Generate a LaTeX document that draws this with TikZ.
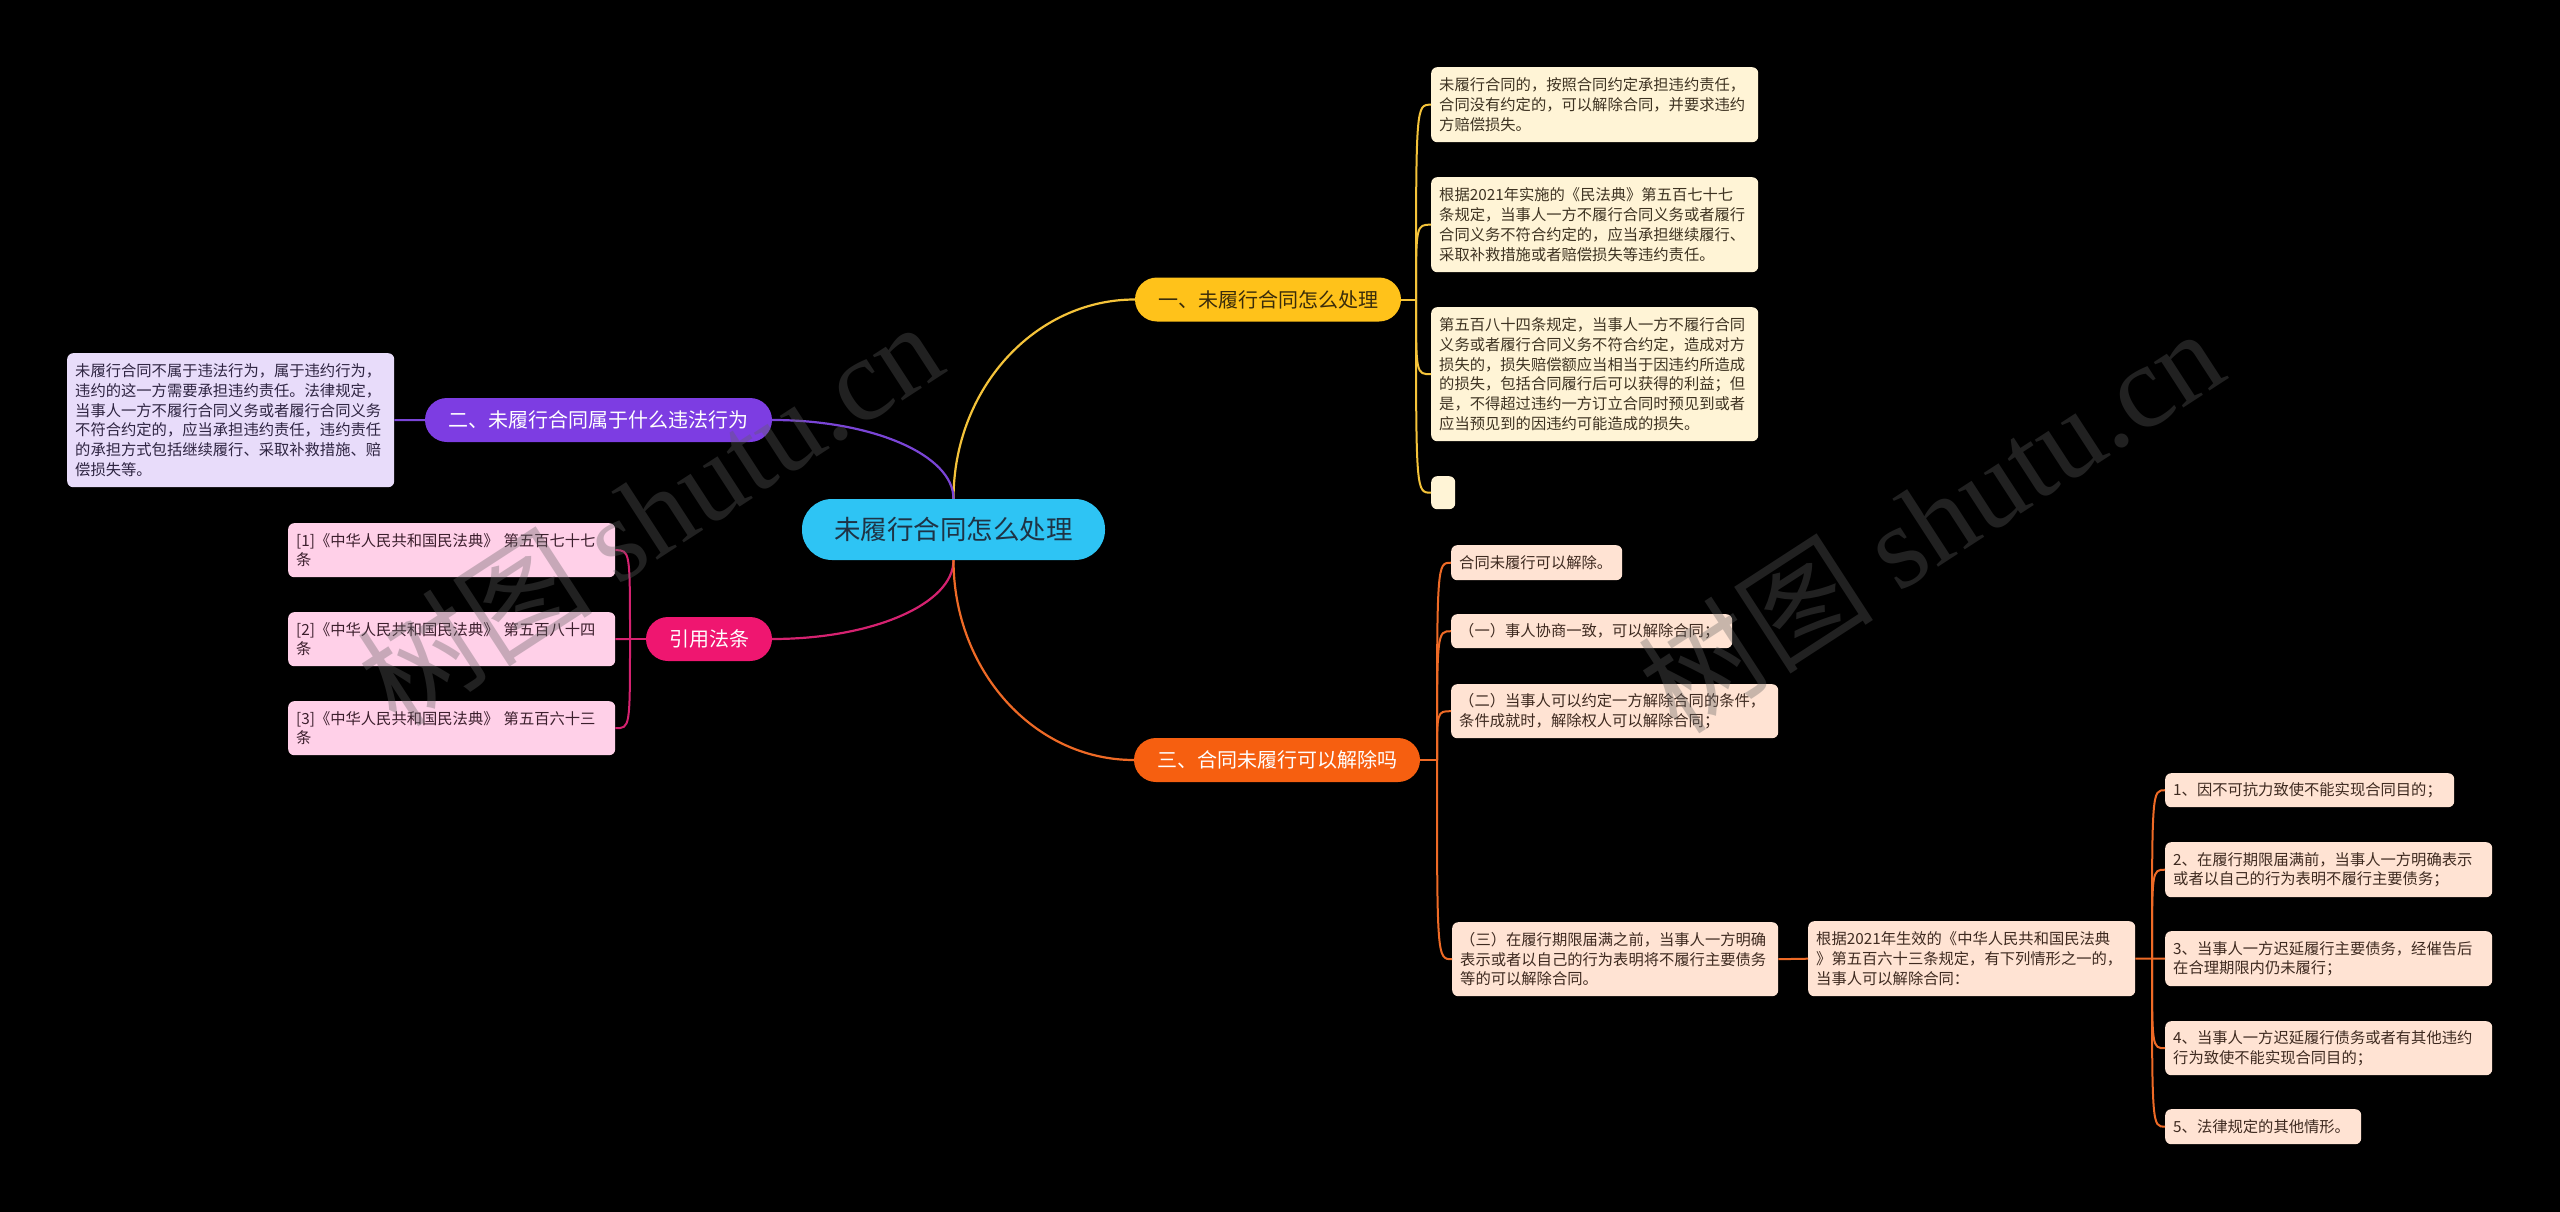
\documentclass[tikz,border=0pt]{standalone}
\usepackage{fontspec}
\setmainfont{Noto Sans CJK SC}
\newfontfamily\wmserif{Liberation Serif}
\usetikzlibrary{calc}
\definecolor{rootfill}{HTML}{2EC4F4}
\definecolor{roottext}{HTML}{1E3345}
\definecolor{bOne}{HTML}{FFC21A}
\definecolor{bOneText}{HTML}{3A2C0A}
\definecolor{lineOne}{HTML}{F4C33A}
\definecolor{bTwo}{HTML}{7D3DE2}
\definecolor{lineTwo}{HTML}{7A45D6}
\definecolor{bRef}{HTML}{EF1670}
\definecolor{lineRef}{HTML}{D52270}
\definecolor{bThree}{HTML}{F65F10}
\definecolor{lineThree}{HTML}{EE6A26}
\definecolor{cream}{HTML}{FFF4D6}
\definecolor{creamText}{HTML}{3E3322}
\definecolor{lav}{HTML}{E8DCFA}
\definecolor{lavText}{HTML}{2F2542}
\definecolor{pinkleaf}{HTML}{FFD0E8}
\definecolor{pinkText}{HTML}{3C1F2D}
\definecolor{peach}{HTML}{FFE3D3}
\definecolor{peachText}{HTML}{3E2A20}
\definecolor{wmgray}{HTML}{606060}
\begin{document}
\begin{tikzpicture}[x=1pt,y=-1pt,
  leaf/.style={anchor=north west, rounded corners=6pt, inner xsep=8pt, inner ysep=0pt, align=left, font=\fontsize{15.3}{19.7}\selectfont},
  pill/.style={inner sep=0pt, align=center, font=\fontsize{20}{24}\selectfont, minimum height=44pt, rounded corners=22pt},
  conn/.style={line width=2.2pt},
  sub/.style={line width=2pt},
  wmark/.style={rotate=33, text=wmgray, opacity=0.35, font=\fontsize{118}{118}\selectfont},
]
\fill[black] (0,0) rectangle (2560,1212);
\useasboundingbox (0,0) rectangle (2560,1212);

% root and main branches
\node[inner sep=0pt, fill=rootfill, text=roottext, minimum width=303pt, minimum height=61pt, rounded corners=30pt, font=\fontsize{26.5}{30}\selectfont] (root) at (953.5,529.5) {未履行合同怎么处理};
\node[pill, fill=bOne, text=bOneText, minimum width=266pt] (b1) at (1268,299.5) {一、未履行合同怎么处理};
\node[pill, fill=bTwo, text=white, minimum width=347pt] (b2) at (598.5,420) {二、未履行合同属于什么违法行为};
\node[pill, fill=bRef, text=white, minimum width=126pt] (bref) at (709,639) {引用法条};
\node[pill, fill=bThree, text=white, minimum width=286pt] (b3) at (1277,760) {三、合同未履行可以解除吗};

% branch 1 leaves
\node[leaf, fill=cream, text=creamText, minimum width=327pt, text width=311pt, minimum height=75pt] (l1a) at (1431,67) {未履行合同的，按照合同约定承担违约责任，\\合同没有约定的，可以解除合同，并要求违约\\方赔偿损失。};
\node[leaf, fill=cream, text=creamText, minimum width=327pt, text width=311pt, minimum height=95pt] (l1b) at (1431,177) {根据2021年实施的《民法典》第五百七十七\\条规定，当事人一方不履行合同义务或者履行\\合同义务不符合约定的，应当承担继续履行、\\采取补救措施或者赔偿损失等违约责任。};
\node[leaf, fill=cream, text=creamText, minimum width=327pt, text width=311pt, minimum height=134pt] (l1c) at (1431,307) {第五百八十四条规定，当事人一方不履行合同\\义务或者履行合同义务不符合约定，造成对方\\损失的，损失赔偿额应当相当于因违约所造成\\的损失，包括合同履行后可以获得的利益；但\\是，不得超过违约一方订立合同时预见到或者\\应当预见到的因违约可能造成的损失。};
\node[leaf, fill=cream, minimum width=24pt, text width=8pt, minimum height=33pt] (l1d) at (1431,476) {};

% branch 2 leaf
\node[leaf, fill=lav, text=lavText, minimum width=327pt, text width=311pt, minimum height=134pt] (l2) at (67,353) {未履行合同不属于违法行为，属于违约行为，\\违约的这一方需要承担违约责任。法律规定，\\当事人一方不履行合同义务或者履行合同义务\\不符合约定的，应当承担违约责任，违约责任\\的承担方式包括继续履行、采取补救措施、赔\\偿损失等。};

% reference leaves
\node[leaf, fill=pinkleaf, text=pinkText, minimum width=327pt, text width=311pt, minimum height=54pt] (r1) at (288,523) {[1]《中华人民共和国民法典》~第五百七十七\\条};
\node[leaf, fill=pinkleaf, text=pinkText, minimum width=327pt, text width=311pt, minimum height=54pt] (r2) at (288,612) {[2]《中华人民共和国民法典》~第五百八十四\\条};
\node[leaf, fill=pinkleaf, text=pinkText, minimum width=327pt, text width=311pt, minimum height=54pt] (r3) at (288,701) {[3]《中华人民共和国民法典》~第五百六十三\\条};

% branch 3 leaves
\node[leaf, fill=peach, text=peachText, minimum width=171pt, text width=155pt, minimum height=35pt] (pa) at (1451,545) {合同未履行可以解除。};
\node[leaf, fill=peach, text=peachText, minimum width=281pt, text width=265pt, minimum height=34pt] (pb) at (1451,614) {（一）事人协商一致，可以解除合同；};
\node[leaf, fill=peach, text=peachText, minimum width=327pt, text width=311pt, minimum height=54pt] (pc) at (1451,684) {（二）当事人可以约定一方解除合同的条件，\\条件成就时，解除权人可以解除合同；};
\node[leaf, fill=peach, text=peachText, minimum width=326pt, text width=310pt, minimum height=74pt] (pd) at (1452,922) {（三）在履行期限届满之前，当事人一方明确\\表示或者以自己的行为表明将不履行主要债务\\等的可以解除合同。};
\node[leaf, fill=peach, text=peachText, minimum width=327pt, text width=311pt, minimum height=75pt] (pe) at (1808,921) {根据2021年生效的《中华人民共和国民法典\\》第五百六十三条规定，有下列情形之一的，\\当事人可以解除合同：};
\node[leaf, fill=peach, text=peachText, minimum width=289pt, text width=273pt, minimum height=34pt] (f1) at (2165,773) {1、因不可抗力致使不能实现合同目的；};
\node[leaf, fill=peach, text=peachText, minimum width=327pt, text width=311pt, minimum height=55pt] (f2) at (2165,842) {2、在履行期限届满前，当事人一方明确表示\\或者以自己的行为表明不履行主要债务；};
\node[leaf, fill=peach, text=peachText, minimum width=327pt, text width=311pt, minimum height=55pt] (f3) at (2165,931) {3、当事人一方迟延履行主要债务，经催告后\\在合理期限内仍未履行；};
\node[leaf, fill=peach, text=peachText, minimum width=327pt, text width=311pt, minimum height=54pt] (f4) at (2165,1021) {4、当事人一方迟延履行债务或者有其他违约\\行为致使不能实现合同目的；};
\node[leaf, fill=peach, text=peachText, minimum width=196pt, text width=180pt, minimum height=35pt] (f5) at (2165,1109) {5、法律规定的其他情形。};

% root connectors
\draw[conn, lineOne] (root.north) .. controls ($(root.north)+(0,-110)$) and ($(b1.west)+(-100,0)$) .. (b1.west);
\draw[conn, lineTwo] (root.north) .. controls ($(root.north)+(0,-44)$) and ($(b2.east)+(100,0)$) .. (b2.east);
\draw[conn, lineRef] (root.south) .. controls ($(root.south)+(0,44)$) and ($(bref.east)+(100,0)$) .. (bref.east);
\draw[conn, lineThree] (root.south) .. controls ($(root.south)+(0,110)$) and ($(b3.west)+(-100,0)$) .. (b3.west);

% branch 1 bracket
\coordinate (j1) at (1416,299.5);
\draw[sub, lineOne] (b1.east) -- (j1);
\foreach \t in {l1a,l1b,l1c,l1d}
  \draw[sub, lineOne] (j1) .. controls (j1 |- \t.west) and (j1 |- \t.west) .. (\t.west);

% branch 2
\draw[sub, lineTwo] (b2.west) -- (l2.east);

% references bracket
\coordinate (jr) at (630,639);
\draw[sub, lineRef] (bref.west) -- (jr);
\foreach \t in {r1,r2,r3}
  \draw[sub, lineRef] (jr) .. controls (jr |- \t.east) and (jr |- \t.east) .. (\t.east);

% branch 3 bracket
\coordinate (j3) at (1437,760);
\draw[sub, lineThree] (b3.east) -- (j3);
\foreach \t in {pa,pb,pc,pd}
  \draw[sub, lineThree] (j3) .. controls (j3 |- \t.west) and (j3 |- \t.west) .. (\t.west);
\draw[sub, lineThree] (pd.east) -- (pe.west);
\coordinate (j5) at (2152,958.5);
\draw[sub, lineThree] (pe.east) -- (j5);
\foreach \t in {f1,f2,f3,f4,f5}
  \draw[sub, lineThree] (j5) .. controls (j5 |- \t.west) and (j5 |- \t.west) .. (\t.west);

% watermarks
\node[wmark] (wm1) at (649,512) {树图 {\wmserif shutu.cn}};
\node[wmark] (wm2) at (1930,519) {树图 {\wmserif shutu.cn}};
\end{tikzpicture}
\end{document}
